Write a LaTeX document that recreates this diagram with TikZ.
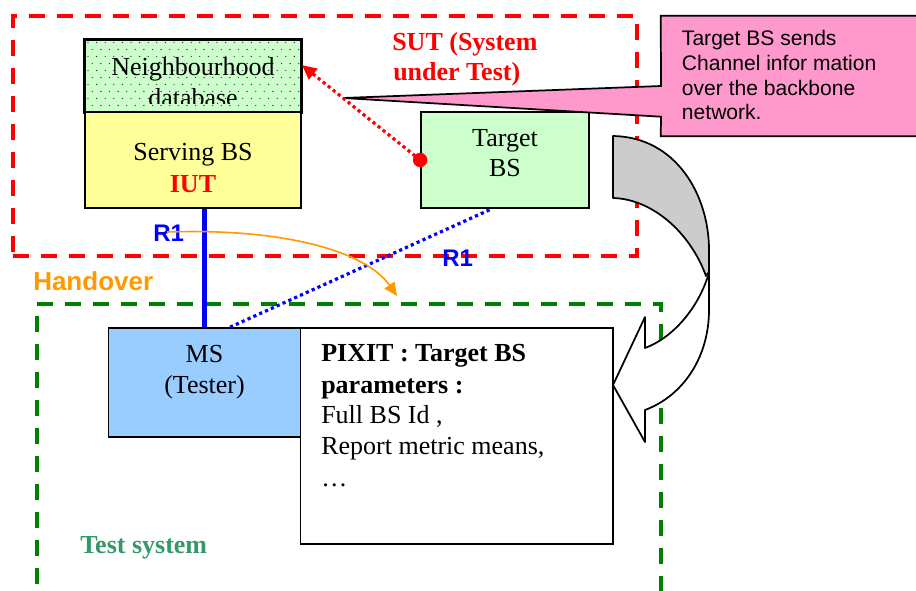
\documentclass[tikz,border=0pt]{standalone}
\usepackage{fontspec}
\setmainfont{Liberation Serif}
\setsansfont{Liberation Sans}
\usetikzlibrary{fit,arrows.meta}
\definecolor{pgreen}{HTML}{CCFFCC}
\definecolor{pyellow}{HTML}{FFFF99}
\definecolor{pblue}{HTML}{99CCFF}
\definecolor{ppink}{HTML}{FF99CC}
\definecolor{porange}{HTML}{FF9900}
\definecolor{tsgreen}{HTML}{339966}
\definecolor{dgreen}{HTML}{008000}
\definecolor{pgray}{HTML}{CCCCCC}
\begin{document}
\begin{tikzpicture}[x=0.75pt,y=-0.75pt,
  box/.style={draw=black,line width=1.3pt,inner sep=0pt},
  sutline/.style={draw=red,line width=3pt,dash pattern=on 12pt off 9pt,inner sep=0pt},
  tsline/.style={draw=dgreen,line width=2.7pt,dash pattern=on 12pt off 9pt,inner sep=0pt},
  serif/.style={font=\fontsize{19.5}{23}\selectfont,inner sep=0pt,anchor=base},
  serifb/.style={font=\fontsize{19.5}{23}\selectfont\bfseries,inner sep=0pt,anchor=base west},
  serifl/.style={font=\fontsize{19.5}{23}\selectfont,inner sep=0pt,anchor=base west},
  calltext/.style={font=\sffamily\fontsize{15.8}{18}\selectfont,inner sep=0pt,anchor=base west},
  rlabel/.style={font=\sffamily\bfseries\fontsize{18}{20}\selectfont,text=blue,inner sep=0pt,anchor=base west},
  dotline/.style={line width=2.4pt,dash pattern=on 2.4pt off 2.4pt},
  arrowline/.style={draw=black,line width=1.3pt,line join=round}
]
\useasboundingbox (0,0) rectangle (916,590);

% system boundaries
\node[sutline,fit={(13,16) (637,256)}] (sut) {};
\node[tsline,fit={(37,304) (661,640)}] (tsys) {};

% neighbourhood database
\node[box,fill=pgreen,fit={(85,40) (301,112)}] (ndb) {};
\begin{scope}
  \clip (ndb.north west) rectangle (ndb.south east);
  \foreach \r in {0,...,9}{
    \foreach \c in {0,...,25}{
      \fill[black!80] ({88+8.6*\c+4.3*mod(\r,2)},{42.5+7*\r}) circle (0.5pt);
    }
  }
\end{scope}
\begin{scope}
  \clip (85,40) rectangle (301,103);
  \node[serif] (t1) at (193,75) {Neighbourhood};
  \node[serif] (t2) at (193,106) {database};
\end{scope}
\draw[line width=1.3pt] (ndb.north west) rectangle (ndb.south east);

% serving BS
\node[box,fill=pyellow,fit={(85,112) (301,208)}] (sbs) {};
\node[serif] (t3) at (193,160) {Serving BS};
\node[serif,font=\fontsize{19.5}{23}\selectfont\bfseries,text=red] (t4) at (193,192) {IUT};

% target BS
\node[box,fill=pgreen,fit={(421,112) (589,208)}] (tbs) {};
\node[serif] (t5) at (505,146.7) {Target};
\node[serif] (t6) at (505,176.7) {BS};

% MS and PIXIT
\node[box,fill=pblue,fit={(108.5,328) (300.4,437)}] (ms) {};
\node[serif] (t7) at (204.5,362.7) {MS};
\node[serif] (t8) at (204.5,393) {(Tester)};
\node[box,fill=white,fit={(300.4,328) (613,544)}] (pixit) {};
\node[serifb] (p1) at (321,361.7) {PIXIT : Target BS};
\node[serifb] (p2) at (321,393.3) {parameters :};
\node[serifl] (p3) at (321,423) {Full BS Id ,};
\node[serifl] (p4) at (321,454) {Report metric means,};
\node[serifl] (p5) at (321,486.7) {…};

% links
\draw[blue,line width=3.75pt] (ms.north |- sbs.south) -- (ms.north);
\draw[blue,dotline] ([xshift=19.2pt]ms.north) -- ([xshift=-10pt]tbs.south);

% labels
\node[serifb,text=red] (s1) at (392,50) {SUT (System};
\node[serifb,text=red] (s2) at (393,80) {under Test)};
\node[rlabel] (r1a) at (153,241.7) {R1};
\node[rlabel] (r1b) at (442,266) {R1};
\node[font=\sffamily\bfseries\fontsize{19.5}{22}\selectfont,text=porange,inner sep=0pt,anchor=base west] (ho) at (33,290) {Handover};
\node[serifb,text=tsgreen] (ts) at (80,553) {Test system};

% handover arrow
\coordinate (ho1) at (167,232);
\coordinate (ho2) at (397,296);
\draw[porange,line width=1.2pt,-{Triangle[length=10pt,width=9pt]}] (ho1) .. controls (280,228) and (365,250) .. (ho2);

% curved arrow
\fill[white] (709,270) -- (709,310) .. controls (709,355) and (685,395) .. (645,410)
  -- (645,442) -- (613,385) -- (645,317) -- (645,348)
  .. controls (672,338) and (697,310) .. (708,276) -- cycle;
\draw[arrowline] (709,270) -- (709,310) .. controls (709,355) and (685,395) .. (645,410)
  -- (645,442) -- (613,385) -- (645,317) -- (645,348)
  .. controls (672,338) and (697,310) .. (708,276);
\filldraw[arrowline,fill=pgray] (613,136) .. controls (676,137) and (709,195) .. (709,250)
  -- (709,272) -- (706,276)
  .. controls (690,232) and (652,199) .. (613,198) -- cycle;

% callout
\node[inner sep=0pt,fit={(661,16) (920,136)}] (call) {};
\coordinate (ptip) at (343,98);
\filldraw[fill=ppink,draw=black,line width=1.3pt,line join=miter]
  (call.north west) -- (call.north east) -- (call.south east) -- (call.south west)
  -- (661,116.7) -- (ptip) -- (661,86) -- cycle;
\node[calltext] (c1) at (681.7,45.7) {Target BS sends};
\node[calltext] (c2) at (681.7,70.7) {Channel infor mation};
\node[calltext] (c3) at (681.7,95) {over the backbone};
\node[calltext] (c4) at (681.7,119) {network.};

% red dotted arrow
\draw[red,dotline,-{Triangle[length=11pt,width=10pt]}] (tbs.west) -- ([yshift=8.25pt]ndb.east);
\fill[red] (tbs.west) circle (5.4pt);
\end{tikzpicture}
\end{document}
